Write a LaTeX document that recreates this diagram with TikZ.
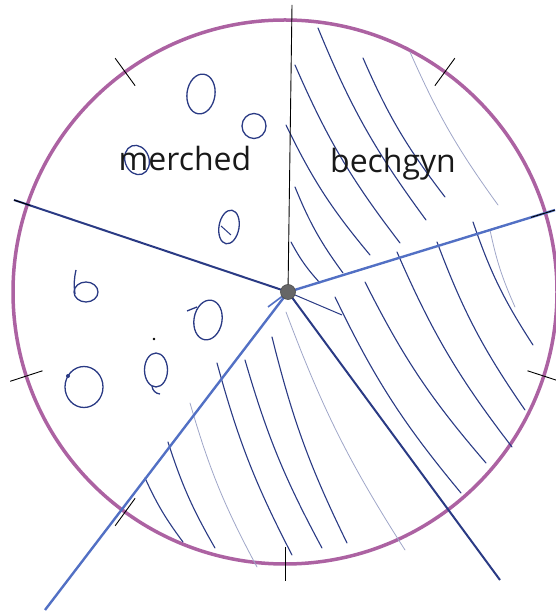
\documentclass[tikz,border=0pt]{standalone}
\usepackage{fontspec}
\setmainfont{Open Sans}
\usetikzlibrary{calc}

\definecolor{rim}{RGB}{172,98,162}
\definecolor{ink}{RGB}{42,58,132}
\definecolor{rule}{RGB}{82,112,196}

\tikzset{
  hatch/.style={ink, line width=1.1pt, line cap=round},
  faint/.style={ink!45, line width=0.8pt, line cap=round},
  zero/.style={ink, line width=1.3pt},
  spoke/.style={rule, line width=2.4pt},
  darkspoke/.style={ink, line width=2pt},
  tick/.style={black, line width=0.9pt},
  sectortext/.style={font=\fontsize{32}{36}\selectfont, text=black!90, anchor=base, inner sep=0pt}
}

\begin{document}
\begin{tikzpicture}[x=1pt,y=1pt]
  \useasboundingbox (0,0) rectangle (555,616);

  \def\rad{272}
  \coordinate (c) at (285,324);
  \coordinate (hub) at (288,324);

  % outer ring
  \draw[rim, line width=3.5pt] (c) circle (\rad);

  % ticks every 36 degrees (those on a spoke come later)
  \foreach \a in {54,126,198,234,270,342} {
    \draw[tick, shift={(c)}] (\a:255) -- (\a:289);
  }

  % hatching: bechgyn sector
  \foreach \sx/\sy/\ex/\ey in {318/588/426/396, 363/558/445/419, 295/551/400/373,
                               286/491/370/361, 295/429/343/343, 291/374/320/333} {
    \draw[hatch] (\sx,\sy) to[bend right=7] (\ex,\ey);
  }
  % hatching: right sector
  \foreach \sx/\sy/\ex/\ey in {473/394/533/271, 437/374/525/206, 397/364/512/169,
                               365/334/486/153, 335/319/461/123} {
    \draw[hatch] (\sx,\sy) to[bend right=7] (\ex,\ey);
  }
  % hatching: bottom sector
  \foreach \sx/\sy/\ex/\ey in {145/138/183/74, 168/174/215/68, 217/253/292/61,
                               245/256/322/68, 272/279/347/73} {
    \draw[hatch] (\sx,\sy) to[bend right=6] (\ex,\ey);
  }
  % lighter strokes
  \foreach \sx/\sy/\ex/\ey in {410/564/498/411, 490/386/515/309, 190/213/257/49, 286/304/405/66} {
    \draw[faint] (\sx,\sy) to[bend right=6] (\ex,\ey);
  }

  % spokes
  \coordinate (top) at (292,611);
  \coordinate (west) at (14,416);
  \coordinate (east) at (555,406);
  \coordinate (sw) at (45,6);
  \coordinate (se) at (500,36);
  \coordinate (stub) at (342,301);
  \coordinate (nib) at (268,309);

  \draw[black, line width=0.9pt] (hub) -- (top);
  \draw[darkspoke] (hub) -- (west);
  \draw[spoke] (hub) -- (east);
  \draw[spoke] (hub) -- (sw);
  \draw[darkspoke] (hub) -- (se);
  \draw[ink, line width=1pt] (hub) -- (stub);
  \draw[rule, line width=1.6pt] (hub) -- (nib);
  \draw[tick] (west) -- ($(west)!0.06!(hub)$);
  \draw[tick] (east) -- ($(east)!0.09!(hub)$);

  % zeros in merched
  \draw[zero] (201,522) ellipse [x radius=14, y radius=20, rotate=-8];
  \draw[zero] (254,490) ellipse [x radius=12, y radius=12.5];
  \draw[zero] (137,456) ellipse [x radius=12, y radius=15, rotate=20];
  \draw[zero] (229,389) ellipse [x radius=10, y radius=17, rotate=-10];
  \draw[ink, line width=1pt] (221,390) -- (231,381);

  % zeros in the left sector
  \draw[zero] (86,324) ellipse [x radius=12, y radius=10];
  \draw[zero] (75,322) to[bend left=10] (76,346);
  \draw[zero] (208,296) ellipse [x radius=14, y radius=20, rotate=-10];
  \draw[zero] (197,309) -- (187,305);
  \fill[black] (154,277) circle (1.3);
  \draw[zero] (156,246) ellipse [x radius=11.5, y radius=17];
  \draw[zero] (152,230) to[bend right=40] (160,222);
  \draw[zero] (84,229) ellipse [x radius=19, y radius=20.5];
  \fill[ink] (68,240) circle (2);

  % hub
  \fill[gray!80!black] (hub) circle (7.5);
  \draw[black!70, line width=0.6pt] (hub) circle (7.5);

  % labels
  \node[sectortext] (merched) at (185,445) {merched};
  \node[sectortext] (bechgyn) at (393,443) {bechgyn};
\end{tikzpicture}
\end{document}
